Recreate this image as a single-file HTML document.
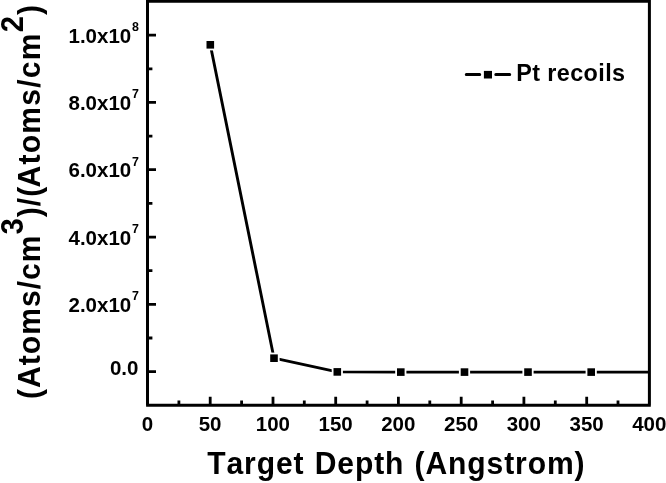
<!DOCTYPE html>
<html><head><meta charset="utf-8"><title>Pt recoils</title>
<style>
html,body{margin:0;padding:0;background:#fff;}
body{width:666px;height:483px;overflow:hidden;}
svg{display:block;}
text{font-family:"Liberation Sans",Arial,sans-serif;font-weight:bold;fill:#000;font-kerning:none;}
.t{font-size:20.5px;}
.s{font-size:12.4px;}
.ttl{font-size:32px;}
.lg{font-size:23.4px;letter-spacing:0.4px;}
</style></head><body>
<svg width="666" height="483" viewBox="0 0 666 483">
<rect x="0" y="0" width="666" height="483" fill="#fff"/>

<g stroke="#000" stroke-width="3" fill="none" stroke-linecap="butt">
<path d="M147.5 0 V405.3 M649.4 0 V405.3 M146.1 1.3 H650.8 M146.1 405.3 H650.8"/>
</g>
<g stroke="#000" stroke-width="2.8" fill="none">
<path d="M178.9 405.3 v-4.9 M210.2 405.3 v-8.5 M241.6 405.3 v-4.9 M273.0 405.3 v-8.5 M304.3 405.3 v-4.9 M335.7 405.3 v-8.5 M367.1 405.3 v-4.9 M398.4 405.3 v-8.5 M429.8 405.3 v-4.9 M461.2 405.3 v-8.5 M492.6 405.3 v-4.9 M523.9 405.3 v-8.5 M555.3 405.3 v-4.9 M586.7 405.3 v-8.5 M618.0 405.3 v-4.9 M147.5 371.7 h8.5 M147.5 338.0 h4.9 M147.5 304.4 h8.5 M147.5 270.7 h4.9 M147.5 237.1 h8.5 M147.5 203.4 h4.9 M147.5 169.7 h8.5 M147.5 136.1 h4.9 M147.5 102.4 h8.5 M147.5 68.8 h4.9 M147.5 35.1 h8.5"/>
</g>
<g stroke="#000" stroke-width="2.9" fill="none" stroke-linejoin="round">
<polyline points="210.3,44.8 274.0,358.2 337.3,371.9 400.8,372.1 464.5,372.1 528.0,372.1 591.2,372.1 649.4,372.1"/>
</g>
<g fill="#000" stroke="#fff" stroke-width="1.8">
<rect x="205.6" y="40.1" width="9.4" height="9.4"/>
<rect x="269.3" y="353.5" width="9.4" height="9.4"/>
<rect x="332.6" y="367.2" width="9.4" height="9.4"/>
<rect x="396.1" y="367.4" width="9.4" height="9.4"/>
<rect x="459.8" y="367.4" width="9.4" height="9.4"/>
<rect x="523.3" y="367.4" width="9.4" height="9.4"/>
<rect x="586.5" y="367.4" width="9.4" height="9.4"/>
</g>
<path d="M466.3 74.6 H479.7 M495.8 74.6 H509.7" stroke="#000" stroke-width="3" stroke-linecap="round"/>
<rect x="483.9" y="70.9" width="8.1" height="7.6" fill="#000"/>
<text class="lg" x="516.2" y="80.7">Pt recoils</text>
<text class="t" x="138.4" y="374.7" text-anchor="end">0.0</text>
<text class="t" x="131.2" y="311.8" text-anchor="end">2.0x10</text>
<text class="s" x="132.0" y="300.4">7</text>
<text class="t" x="131.2" y="244.5" text-anchor="end">4.0x10</text>
<text class="s" x="132.0" y="233.1">7</text>
<text class="t" x="131.2" y="177.1" text-anchor="end">6.0x10</text>
<text class="s" x="132.0" y="165.7">7</text>
<text class="t" x="131.2" y="109.8" text-anchor="end">8.0x10</text>
<text class="s" x="132.0" y="98.4">7</text>
<text class="t" x="131.2" y="42.5" text-anchor="end">1.0x10</text>
<text class="s" x="132.0" y="31.1">8</text>
<text class="t" x="147.4" y="430.5" text-anchor="middle">0</text>
<text class="t" x="210.1" y="430.5" text-anchor="middle">50</text>
<text class="t" x="272.9" y="430.5" text-anchor="middle">100</text>
<text class="t" x="335.6" y="430.5" text-anchor="middle">150</text>
<text class="t" x="398.3" y="430.5" text-anchor="middle">200</text>
<text class="t" x="461.1" y="430.5" text-anchor="middle">250</text>
<text class="t" x="523.8" y="430.5" text-anchor="middle">300</text>
<text class="t" x="586.6" y="430.5" text-anchor="middle">350</text>
<text class="t" x="649.3" y="430.5" text-anchor="middle">400</text>
<text class="ttl" transform="translate(207.2,474.3) scale(0.94,1)" letter-spacing="0.95" word-spacing="1">Target Depth (Angstrom)</text>
<text class="ttl" transform="translate(40.4,399) rotate(-90) scale(0.94,1)" letter-spacing="1.08">(Atoms/cm<tspan dy="-17.1" font-size="31">3</tspan><tspan dy="17.1">)/(</tspan><tspan dx="-1.7" letter-spacing="1.3">Atoms/cm</tspan><tspan dy="-17.1" font-size="31">2</tspan><tspan dy="17.1">)</tspan></text>
</svg></body></html>
